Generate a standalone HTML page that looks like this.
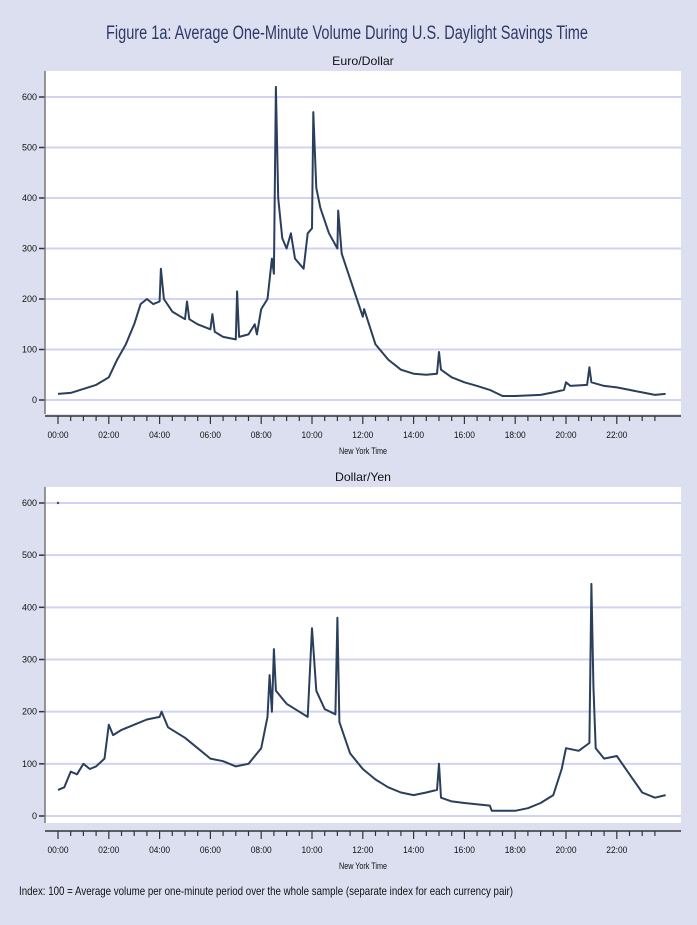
<!DOCTYPE html>
<html><head><meta charset="utf-8"><style>
body{margin:0;width:697px;height:925px;background:#dcdff0;overflow:hidden}
svg{display:block}
text{font-family:"Liberation Sans Narrow","Liberation Sans",sans-serif;fill:#111}
</style></head><body>
<svg id="c" width="697" height="925">
<text x="106" y="39" textLength="482" lengthAdjust="spacingAndGlyphs" font-size="19" style="fill:#2c3a66">Figure 1a: Average One-Minute Volume During U.S. Daylight Savings Time</text>
<text x="19" y="895" textLength="494" lengthAdjust="spacingAndGlyphs" font-size="12">Index: 100 = Average volume per one-minute period over the whole sample  (separate index for each currency pair)</text>
</svg>
<script>
const yTicks=[0,100,200,300,400,500,600];
const xTickLabels=["00:00","02:00","04:00","06:00","08:00","10:00","12:00","14:00","16:00","18:00","20:00","22:00"];
const eurTimes=[0,0.5,1,1.5,2,2.33,2.67,3,3.25,3.5,3.75,4,4.05,4.17,4.5,5,5.08,5.17,5.5,6,6.08,6.17,6.5,7,7.05,7.13,7.5,7.75,7.83,8,8.25,8.42,8.5,8.58,8.67,8.83,9,9.17,9.33,9.67,9.83,10,10.05,10.17,10.33,10.67,11,11.03,11.17,11.5,12,12.05,12.5,13,13.5,14,14.5,14.92,15,15.08,15.5,16,16.5,17,17.5,18,19,19.5,19.92,20,20.17,20.83,20.92,21,21.5,22,22.5,23,23.5,23.92];
const eurVals=[12,14,22,30,45,80,110,150,190,200,190,195,260,200,175,160,195,160,150,140,170,135,125,120,215,125,130,150,130,180,200,280,250,620,400,320,300,330,280,260,330,340,570,420,380,330,300,375,290,240,165,180,110,80,60,52,50,52,95,60,45,35,28,20,8,8,10,15,20,35,28,30,65,35,28,25,20,15,10,12];
const yenTimes=[0,0.25,0.5,0.75,1,1.25,1.5,1.83,2,2.17,2.5,3,3.5,4,4.08,4.33,5,5.5,6,6.5,7,7.5,8,8.25,8.33,8.42,8.5,8.58,9,9.5,9.83,10,10.17,10.5,10.92,11,11.08,11.5,12,12.5,13,13.5,14,14.5,14.92,15,15.08,15.5,16,17,17.08,18,18.5,19,19.5,19.83,20,20.5,20.92,21,21.08,21.17,21.5,22,22.5,23,23.5,23.92];
const yenVals=[50,55,85,80,100,90,95,110,175,155,165,175,185,190,200,170,150,130,110,105,95,100,130,190,270,200,320,240,215,200,190,360,240,205,195,380,180,120,90,70,55,45,40,45,50,100,35,28,25,20,10,10,15,25,40,90,130,125,140,445,250,130,110,115,80,45,35,40];
const svg=document.getElementById('c');const NS="http://www.w3.org/2000/svg";
function mk(t,a,p){const e=document.createElementNS(NS,t);for(const k in a)e.setAttribute(k,a[k]);(p||svg).appendChild(e);return e;}
function panel(name,title,top,bottom,y600,y0,times,vals,tickY,extraDot){
 const L=45,R=681,x0=58,xs=h=>x0+h*25.4;
 const ys=v=>y0+(y600-y0)*v/600;
 const g=mk('g',{});
 
 
 const t=mk('text',{x:363,y:top-6,'text-anchor':'middle','font-size':12,textLength:title.length*5.6,lengthAdjust:'spacingAndGlyphs'},g);t.textContent=title;
 
 
 const bg=mk('rect',{x:L,y:top,width:R-L,height:bottom-top,fill:'#fff'},g);
 
 
 yTicks.forEach(v=>{const y=ys(v);
  const gl=mk('line',{x1:L,x2:R,y1:y,y2:y,stroke:'#d2d2f4','stroke-width':2},g);
  
  
  mk('line',{x1:L-6,x2:L,y1:y,y2:y,stroke:'#333','stroke-width':1.5},g);
  const lb=mk('text',{x:L-8,y:y+3,'text-anchor':'end','font-size':9},g);lb.textContent=v;
  
  });
 mk('line',{x1:L,x2:L,y1:top,y2:bottom,stroke:'#777','stroke-width':1.5},g);
 mk('line',{x1:L,x2:R,y1:tickY,y2:tickY,stroke:'#333','stroke-width':1.5},g);
 for(let i=0;i<48;i++){const x=xs(i*0.5);const big=i%4==0;
  mk('line',{x1:x,x2:x,y1:tickY,y2:tickY+(big?8:5),stroke:'#333','stroke-width':1.2},g);}
 xTickLabels.forEach((s,i)=>{const lb=mk('text',{x:xs(i*2),y:tickY+22,'text-anchor':'middle','font-size':9,textLength:21,lengthAdjust:'spacingAndGlyphs'},g);lb.textContent=s;
  
  });
 const xt=mk('text',{x:363,y:tickY+38,'text-anchor':'middle','font-size':9,textLength:48,lengthAdjust:'spacingAndGlyphs'},g);xt.textContent='New York Time';
 
 
 const d=times.map((h,i)=>(i?'L':'M')+xs(h).toFixed(1)+' '+ys(vals[i]).toFixed(1)).join(' ');
 const p=mk('path',{d:d,fill:'none',stroke:'#2b3f5c','stroke-width':2,'stroke-linejoin':'round'},g);
 
 
 if(extraDot){const c=mk('circle',{cx:xs(0),cy:ys(600),r:1.2,fill:'#733'},g);
  
  }
}
panel('euro-dollar','Euro/Dollar',71,414,97,400,eurTimes,eurVals,416,false);
panel('dollar-yen','Dollar/Yen',487,823,503,816,yenTimes,yenVals,831,true);
</script>
</body></html>
